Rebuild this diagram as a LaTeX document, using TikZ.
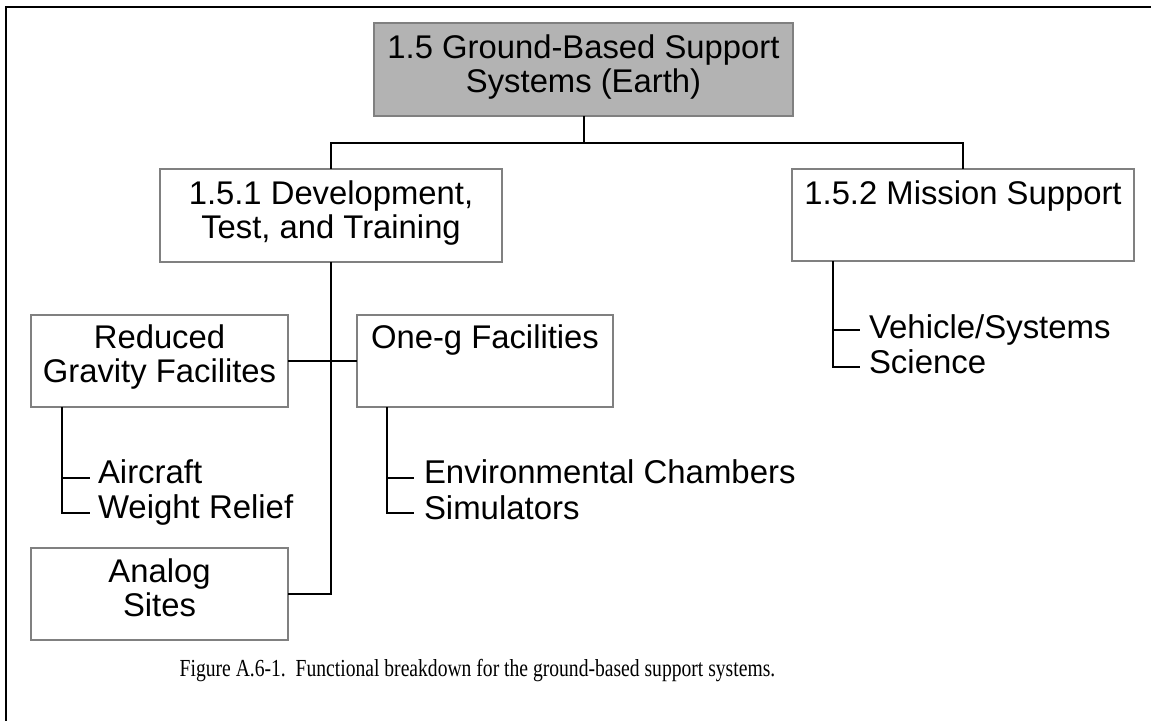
\documentclass[tikz,border=0pt]{standalone}
\usepackage{fontspec}
\setmainfont{Liberation Serif}
\newfontfamily\arialf{Liberation Sans}
\definecolor{boxgray}{HTML}{B3B3B3}
\definecolor{edgegray}{HTML}{808080}
\begin{document}
\begin{tikzpicture}[x=0.75pt,y=-0.75pt,
  box/.style={draw=edgegray,line width=1.1pt,rectangle,inner sep=0pt,outer sep=0pt,fill=white},
  txt/.style={inner sep=0pt,outer sep=0pt,align=center,font=\arialf\fontsize{24.6}{25.2}\selectfont},
  item/.style={inner sep=0pt,outer sep=0pt,anchor=base west,font=\arialf\fontsize{24.7}{25.2}\selectfont},
  conn/.style={draw=black,line width=1.5pt},
  frameline/.style={draw=black,line width=1.5pt}]
\useasboundingbox (0,0) rectangle (1151,721);
% frame (top and left)
\coordinate (fr1) at (1151,7);
\coordinate (fr2) at (6,7);
\coordinate (fr3) at (6,721);
\draw[frameline] (fr1) -- (fr2) -- (fr3);
% boxes
\node[box,fill=boxgray,minimum width=419*0.75pt,minimum height=93*0.75pt] (top) at (583.5,69.5) {};
\node[box,minimum width=342*0.75pt,minimum height=93*0.75pt] (b151) at (331,215.5) {};
\node[box,minimum width=342*0.75pt,minimum height=92*0.75pt] (b152) at (963,215) {};
\node[box,minimum width=257*0.75pt,minimum height=92*0.75pt] (red) at (159.5,361) {};
\node[box,minimum width=256*0.75pt,minimum height=92*0.75pt] (oneg) at (485,361) {};
\node[box,minimum width=257*0.75pt,minimum height=92*0.75pt] (analog) at (159.5,594) {};
% box texts
\node[txt,anchor=north] (ttop) at (583.5,35) {1.5 Ground-Based Support\\Systems (Earth)};
\node[txt,anchor=north] (t151) at (331,181) {1.5.1 Development,\\Test, and Training};
\node[txt,anchor=north] (t152) at (963,181) {1.5.2 Mission Support};
\node[txt,anchor=north] (tred) at (159.5,325) {Reduced\\Gravity Facilites};
\node[txt,anchor=north] (toneg) at (485,325) {One-g Facilities};
\node[txt,anchor=north] (tanalog) at (159.5,559) {Analog\\Sites};
% connectors between boxes
\coordinate (bus) at (583.5,143);
\draw[conn] (top.south) -- (bus);
\draw[conn] (bus) -| (b151.north);
\draw[conn] (bus) -| (b152.north);
\draw[conn] (b151.south) |- (analog.east);
\draw[conn] (red.east) -- (oneg.west);
% list under Reduced Gravity
\coordinate (rv0) at (62,407);
\coordinate (rt1) at (90,478);
\coordinate (rt2) at (90,513);
\node[item] (air) at (98,483) {Aircraft};
\node[item] (wr) at (98,518) {Weight Relief};
\draw[conn] (rv0) |- (rt2);
\draw[conn] (rv0 |- rt1) -- (rt1);
% list under One-g
\coordinate (ov0) at (387,407);
\coordinate (ot1) at (414,478);
\coordinate (ot2) at (414,513);
\node[item] (env) at (424,483) {Environmental Chambers};
\node[item] (sim) at (424,519) {Simulators};
\draw[conn] (ov0) |- (ot2);
\draw[conn] (ov0 |- ot1) -- (ot1);
% list under Mission Support
\coordinate (mv0) at (833,261);
\coordinate (mt1) at (860,330);
\coordinate (mt2) at (860,367);
\node[item] (veh) at (869,338) {Vehicle/Systems};
\node[item] (sci) at (869,373) {Science};
\draw[conn] (mv0) |- (mt2);
\draw[conn] (mv0 |- mt1) -- (mt1);
% caption
\node[inner sep=0pt,anchor=base,font=\fontsize{14.7}{17}\selectfont] (cap) at (477.5,676) {\scalebox{1}[1.25]{Figure A.6-1.\hspace{0.5em}Functional breakdown for the ground-based support systems.}};
\end{tikzpicture}
\end{document}
